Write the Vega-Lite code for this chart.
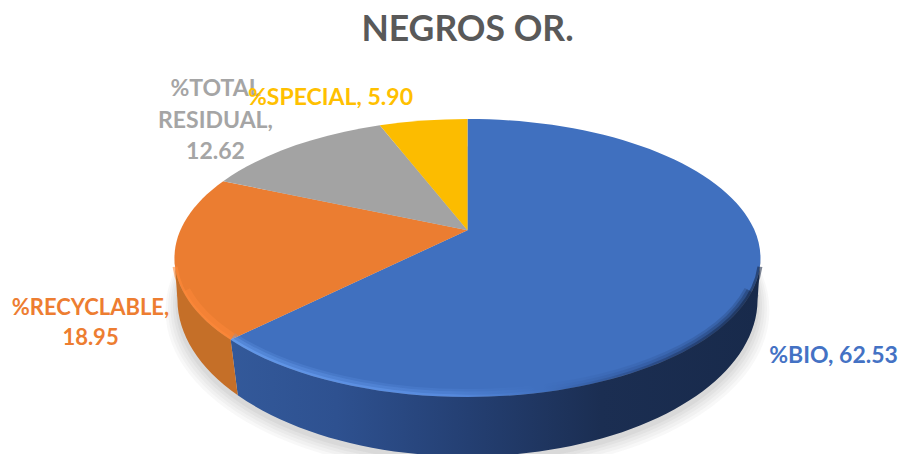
{
  "$schema": "https://vega.github.io/schema/vega-lite/v6.json",
  "width": 867,
  "height": 392,
  "autosize": "none",
  "padding": {"left": 34, "top": 62, "right": 0, "bottom": 0},
  "background": "white",
  "config": {"view": {"stroke": null}},
  "title": {
    "text": "NEGROS OR.",
    "font": "Lato",
    "fontSize": 35.5,
    "fontWeight": "bold",
    "color": "#595959",
    "anchor": "middle",
    "offset": 14
  },
  "data": {
    "values": [
      {"name": "%BIO", "value": 62.53, "order": 1},
      {"name": "%RECYCLABLE", "value": 18.95, "order": 2},
      {"name": "%TOTAL RESIDUAL", "value": 12.62, "order": 3},
      {"name": "%SPECIAL", "value": 5.9, "order": 4}
    ]
  },
  "transform": [
    {"joinaggregate": [{"op": "sum", "field": "value", "as": "total"}]},
    {"window": [{"op": "sum", "field": "value", "as": "end"}], "sort": [{"field": "order", "order": "ascending"}]},
    {"calculate": "datum.end - datum.value", "as": "start"},
    {"calculate": "2 * PI * datum.start / datum.total", "as": "a0"},
    {"calculate": "2 * PI * datum.end / datum.total", "as": "a1"},
    {"calculate": "round(98000 * sin(datum.a0) / (1 + 0.2 * cos(datum.a0))) / 100000", "as": "x0"},
    {"calculate": "round(47440 * (-cos(datum.a0) - 0.2) / (1 + 0.2 * cos(datum.a0))) / 100000", "as": "y0"},
    {"calculate": "round(98000 * sin(datum.a1) / (1 + 0.2 * cos(datum.a1))) / 100000", "as": "x1"},
    {"calculate": "round(47440 * (-cos(datum.a1) - 0.2) / (1 + 0.2 * cos(datum.a1))) / 100000", "as": "y1"},
    {"calculate": "round(95060 * sin(datum.a1) / (1 + 0.2 * cos(datum.a1))) / 100000", "as": "bx1"},
    {"calculate": "round(14330 + 55190 * (-cos(datum.a1) - 0.2) / (1 + 0.2 * cos(datum.a1))) / 100000", "as": "by1"},
    {"calculate": "round(95060 * sin(datum.a0) / (1 + 0.2 * cos(datum.a0))) / 100000", "as": "bx0"},
    {"calculate": "round(14330 + 55190 * (-cos(datum.a0) - 0.2) / (1 + 0.2 * cos(datum.a0))) / 100000", "as": "by0"},
    {"calculate": "'M0,-0.09488L' + datum.x0 + ',' + datum.y0 + 'A1 0.4744 0 ' + (datum.value > 50 ? 1 : 0) + ' 1 ' + datum.x1 + ',' + datum.y1 + 'Z'", "as": "slicePath"},
    {"calculate": "'M0.97,0.1153A1 0.4744 0 0 1 ' + datum.x1 + ',' + datum.y1", "as": "bioRim"},
    {"calculate": "'M0.998,0.03A1 0.4744 0 0 1 ' + datum.x1 + ',' + datum.y1", "as": "bioEdge"},
    {"calculate": "'M' + datum.x0 + ',' + datum.y0 + 'A1 0.4744 0 0 1 -0.97,0.1153'", "as": "recyclableRim"},
    {"calculate": "'M' + datum.x0 + ',' + datum.y0 + 'A1 0.4744 0 0 1 -0.998,0.03'", "as": "recyclableEdge"},
    {"calculate": "'M1,0A1 0.4744 0 0 1 ' + datum.x1 + ',' + datum.y1 + 'L' + datum.bx1 + ',' + datum.by1 + 'A0.99 0.5358 0 0 0 0.99,0.1433Z'", "as": "bioSide"},
    {"calculate": "'M' + datum.x0 + ',' + datum.y0 + 'A1 0.4744 0 0 1 -1,0L-0.99,0.1433A0.99 0.5358 0 0 0 ' + datum.bx0 + ',' + datum.by0 + 'Z'", "as": "recyclableSide"},
    {"calculate": "datum.name + ', ' + format(datum.value, '.2f')", "as": "label"}
  ],
  "layer": [
    {
      "description": "Soft ground shadow under the disc, built from stacked translucent ellipses",
      "transform": [{"filter": "datum.order == 1"}],
      "mark": {"type": "point", "filled": true, "opacity": 0.035, "color": "#404040", "size": 372000,
        "shape": "M-0.99,0.172A0.99 0.5358 0 1 1 0.99,0.172A0.99 0.5358 0 1 1 -0.99,0.172Z"},
      "encoding": {}
    },
    {
      "transform": [{"filter": "datum.order == 1"}],
      "mark": {"type": "point", "filled": true, "opacity": 0.04, "color": "#404040", "size": 366000,
        "shape": "M-0.99,0.168A0.99 0.5358 0 1 1 0.99,0.168A0.99 0.5358 0 1 1 -0.99,0.168Z"},
      "encoding": {}
    },
    {
      "transform": [{"filter": "datum.order == 1"}],
      "mark": {"type": "point", "filled": true, "opacity": 0.04, "color": "#404040", "size": 360000,
        "shape": "M-0.99,0.164A0.99 0.5358 0 1 1 0.99,0.164A0.99 0.5358 0 1 1 -0.99,0.164Z"},
      "encoding": {}
    },
    {
      "transform": [{"filter": "datum.order == 1"}],
      "mark": {"type": "point", "filled": true, "opacity": 0.045, "color": "#404040", "size": 354000,
        "shape": "M-0.99,0.16A0.99 0.5358 0 1 1 0.99,0.16A0.99 0.5358 0 1 1 -0.99,0.16Z"},
      "encoding": {}
    },
    {
      "transform": [{"filter": "datum.order == 1"}],
      "mark": {"type": "point", "filled": true, "opacity": 0.05, "color": "#404040", "size": 348000,
        "shape": "M-0.99,0.156A0.99 0.5358 0 1 1 0.99,0.156A0.99 0.5358 0 1 1 -0.99,0.156Z"},
      "encoding": {}
    },
    {
      "description": "Top face of the disc, one wedge per category",
      "mark": {"type": "point", "filled": true, "opacity": 1, "size": 343396},
      "encoding": {
        "shape": {"field": "slicePath", "type": "nominal", "scale": null, "legend": null},
        "color": {
          "field": "name",
          "type": "nominal",
          "legend": null,
          "scale": {
            "domain": ["%BIO", "%RECYCLABLE", "%TOTAL RESIDUAL", "%SPECIAL"],
            "range": ["#4070BF", "#EB7D31", "#A3A3A3", "#FCBC00"]
          }
        }
      }
    },
    {
      "description": "Bevel highlight along the front rim, blue wedge",
      "transform": [{"filter": "datum.order == 1"}],
      "mark": {
        "type": "point", "filled": false, "opacity": 0.2, "size": 343396, "strokeWidth": 16,
        "stroke": {"gradient": "linear", "x1": 0, "y1": 0, "x2": 1, "y2": 0, "stops": [
          {"offset": 0, "color": "#6FA6F7"}, {"offset": 0.42, "color": "#5F93E8"},
          {"offset": 0.6, "color": "#4070BF"}, {"offset": 0.8, "color": "#2A4C8C"}, {"offset": 1, "color": "#14233F"}
        ]}
      },
      "encoding": {"shape": {"field": "bioRim", "type": "nominal", "scale": null, "legend": null}}
    },
    {
      "transform": [{"filter": "datum.order == 1"}],
      "mark": {
        "type": "point", "filled": false, "opacity": 0.3, "size": 343396, "strokeWidth": 11,
        "stroke": {"gradient": "linear", "x1": 0, "y1": 0, "x2": 1, "y2": 0, "stops": [
          {"offset": 0, "color": "#6FA6F7"}, {"offset": 0.42, "color": "#5F93E8"},
          {"offset": 0.6, "color": "#4070BF"}, {"offset": 0.8, "color": "#2A4C8C"}, {"offset": 1, "color": "#14233F"}
        ]}
      },
      "encoding": {"shape": {"field": "bioRim", "type": "nominal", "scale": null, "legend": null}}
    },
    {
      "transform": [{"filter": "datum.order == 1"}],
      "mark": {
        "type": "point", "filled": false, "opacity": 0.55, "size": 343396, "strokeWidth": 5,
        "stroke": {"gradient": "linear", "x1": 0, "y1": 0, "x2": 1, "y2": 0, "stops": [
          {"offset": 0, "color": "#6FA6F7"}, {"offset": 0.42, "color": "#5F93E8"},
          {"offset": 0.6, "color": "#4070BF"}, {"offset": 0.8, "color": "#243F73"}, {"offset": 1, "color": "#14233F"}
        ]}
      },
      "encoding": {"shape": {"field": "bioEdge", "type": "nominal", "scale": null, "legend": null}}
    },
    {
      "description": "Bevel highlight along the rim, orange wedge",
      "transform": [{"filter": "datum.order == 2"}],
      "mark": {"type": "point", "filled": false, "opacity": 0.45, "size": 343396, "strokeWidth": 15, "stroke": "#FF8A3A"},
      "encoding": {"shape": {"field": "recyclableRim", "type": "nominal", "scale": null, "legend": null}}
    },
    {
      "transform": [{"filter": "datum.order == 2"}],
      "mark": {"type": "point", "filled": false, "opacity": 0.6, "size": 343396, "strokeWidth": 5, "stroke": "#FF8A3A"},
      "encoding": {"shape": {"field": "recyclableEdge", "type": "nominal", "scale": null, "legend": null}}
    },
    {
      "description": "Visible side walls of the disc",
      "transform": [{"filter": "datum.order == 1"}],
      "mark": {
        "type": "point", "filled": true, "opacity": 1, "size": 343396,
        "fill": {"gradient": "linear", "x1": 0, "y1": 0, "x2": 1, "y2": 0, "stops": [
          {"offset": 0, "color": "#33599A"}, {"offset": 0.2, "color": "#2E5190"},
          {"offset": 0.45, "color": "#243F72"}, {"offset": 0.7, "color": "#1B2E52"}, {"offset": 1, "color": "#182A4B"}
        ]}
      },
      "encoding": {"shape": {"field": "bioSide", "type": "nominal", "scale": null, "legend": null}}
    },
    {
      "transform": [{"filter": "datum.order == 2"}],
      "mark": {"type": "point", "filled": true, "opacity": 1, "size": 343396, "color": "#C56F28"},
      "encoding": {"shape": {"field": "recyclableSide", "type": "nominal", "scale": null, "legend": null}}
    },
    {
      "description": "Category labels",
      "transform": [{"filter": "datum.order == 3"}],
      "mark": {"type": "text", "font": "Lato", "fontWeight": "bold", "fontSize": 23, "color": "#A5A5A5",
        "lineBreak": " ", "lineHeight": 31.5, "dx": -252, "dy": -169},
      "encoding": {"text": {"field": "label", "type": "nominal"}}
    },
    {
      "transform": [{"filter": "datum.order == 4"}],
      "mark": {"type": "text", "font": "Lato", "fontWeight": "bold", "fontSize": 23, "color": "#FFC000",
        "dx": -137, "dy": -160},
      "encoding": {"text": {"field": "label", "type": "nominal"}}
    },
    {
      "transform": [{"filter": "datum.order == 2"}],
      "mark": {"type": "text", "font": "Lato", "fontWeight": "bold", "fontSize": 22, "color": "#ED7D31",
        "lineBreak": " ", "lineHeight": 30, "dx": -377, "dy": 50},
      "encoding": {"text": {"field": "label", "type": "nominal"}}
    },
    {
      "transform": [{"filter": "datum.order == 1"}],
      "mark": {"type": "text", "font": "Lato", "fontWeight": "bold", "fontSize": 23, "color": "#4472C4",
        "dx": 366, "dy": 98},
      "encoding": {"text": {"field": "label", "type": "nominal"}}
    }
  ]
}
